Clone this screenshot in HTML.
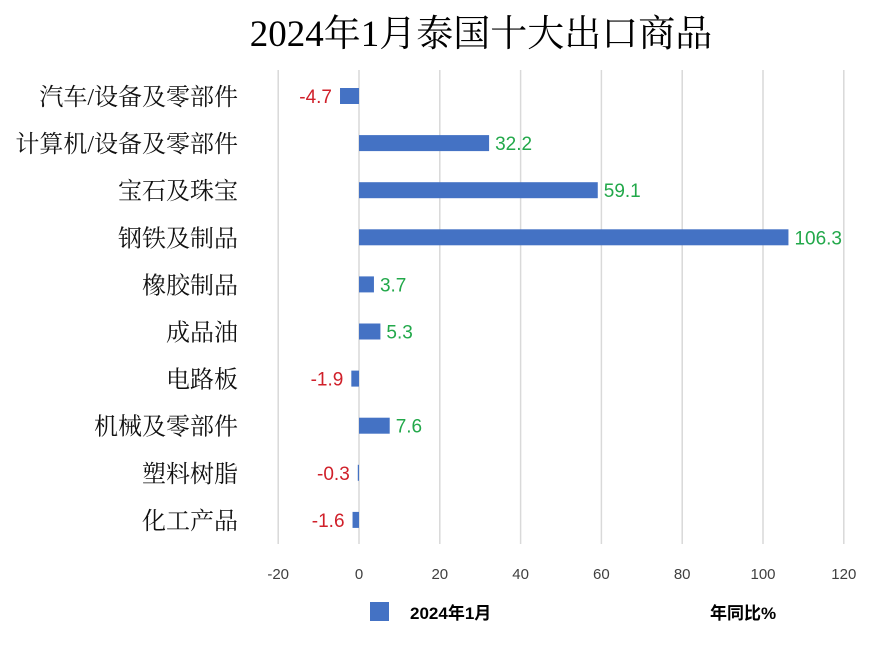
<!DOCTYPE html>
<html><head><meta charset="utf-8"><style>
body{margin:0;background:#fff;width:884px;height:644px;overflow:hidden}
svg text{font-family:"Liberation Sans","Noto Sans CJK SC",sans-serif}
</style></head><body>
<svg id="chart" width="884" height="644" viewBox="0 0 884 644" xmlns="http://www.w3.org/2000/svg">
<text x="481" y="46" text-anchor="middle" font-size="37" style="font-family:'Liberation Serif','Noto Serif CJK SC',serif" fill="#000">2024年1月泰国十大出口商品</text>
<g id="grid"></g><g id="bars"></g>
<rect x="370" y="602" width="19" height="19" fill="#4472c4"/>
<text x="410" y="619" font-size="17" font-weight="bold" fill="#000">2024年1月</text>
<text x="710" y="619" font-size="17" font-weight="bold" fill="#000">年同比%</text>
</svg>
<script>
const categories=["汽车/设备及零部件","计算机/设备及零部件","宝石及珠宝","钢铁及制品","橡胶制品","成品油","电路板","机械及零部件","塑料树脂","化工产品"];
const values=[-4.7,32.2,59.1,106.3,3.7,5.3,-1.9,7.6,-0.3,-1.6];
const ticks=[-20,0,20,40,60,80,100,120];
const NS="http://www.w3.org/2000/svg";
const x=v=>359+(v)*4.04;
const y=i=>96+i*47.1;
function mk(t,a,p){const e=document.createElementNS(NS,t);for(const k in a)e.setAttribute(k,a[k]);p.appendChild(e);return e;}
const grid=document.getElementById('grid'),bars=document.getElementById('bars');
ticks.forEach(t=>{
 const l=mk('line',{x1:x(t),x2:x(t),y1:70,y2:544,stroke:'#d9d9d9','stroke-width':1.5},grid);
 
 
 const tx=mk('text',{x:x(t),y:579,'text-anchor':'middle','font-size':15,fill:'#404040'},grid);
 tx.textContent=t;
 
 
});
categories.forEach((c,i)=>{
 const v=values[i],cy=y(i);
 const lab=mk('text',{x:238,y:cy+9,'text-anchor':'end','font-size':24,fill:'#111',style:"font-family:'Liberation Serif','Noto Serif CJK SC',serif"},bars);
 lab.textContent=c;
 
 
 const x0=Math.min(x(0),x(v)),w=Math.max(Math.abs(x(v)-x(0)),1);
 const r=mk('rect',{x:x0,y:cy-8,width:w,height:16,fill:'#4472c4'},bars);
 
 
 const neg=v<0;
 const vt=mk('text',{x:neg?x(v)-8:x(v)+6,y:cy+7,'text-anchor':neg?'end':'start','font-size':19,fill:neg?'#d0202a':'#22a84a'},bars);
 vt.textContent=v;
 
 
});
</script>
</body></html>
